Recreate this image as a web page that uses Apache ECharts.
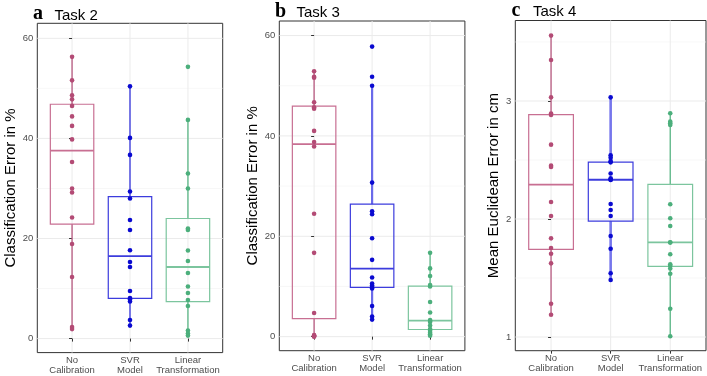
<!DOCTYPE html>
<html><head><meta charset="utf-8">
<script src="https://cdn.jsdelivr.net/npm/echarts@6/dist/echarts.min.js"></script>
<style>html,body{margin:0;padding:0;background:#fff}#c{width:707px;height:376px}</style>
</head><body><div id="c"></div>
<script>
// ---- data ----
const categories = ['No\nCalibration', 'SVR\nModel', 'Linear\nTransformation'];
const categoryPos = [0, 1, 2];

const task2NoCal = [56.3, 51.6, 48.6, 47.8, 46.5, 44.4, 42.5, 39.8, 35.3, 30.0, 29.2, 24.2, 18.9, 12.3, 2.3, 1.9];
const task2SVR   = [50.4, 40.1, 36.7, 29.4, 28.0, 23.7, 21.7, 17.65, 15.3, 14.3, 9.5, 8.1, 7.8, 7.4, 3.7, 2.6];
const task2Lin   = [54.3, 43.7, 33.0, 30.0, 22.0, 21.7, 17.6, 15.5, 13.1, 10.4, 9.1, 7.7, 6.5, 1.6, 1.0, 0.6];

const task3NoCal = [52.9, 51.8, 51.6, 46.7, 45.7, 45.4, 41.0, 38.8, 37.9, 24.5, 16.7, 4.7, 0.3, 0.2, 0.1, 0.0];
const task3SVR   = [57.8, 51.8, 50.0, 30.7, 25.0, 24.4, 19.6, 15.3, 11.8, 10.6, 10.2, 9.9, 9.6, 6.1, 4.0, 3.4];
const task3Lin   = [16.7, 13.6, 12.1, 10.3, 10.0, 6.9, 4.8, 3.3, 3.1, 2.9, 2.2, 1.5, 1.2, 0.8, 0.5, 0.2];

const task4NoCal = [3.554, 3.347, 3.031, 2.893, 2.881, 2.630, 2.452, 2.440, 2.144, 2.025, 1.836, 1.754, 1.706, 1.624, 1.282, 1.189];
const task4SVR   = [3.031, 2.540, 2.520, 2.490, 2.480, 2.385, 2.345, 2.335, 2.330, 2.127, 2.076, 2.025, 1.856, 1.748, 1.540, 1.483];
const task4Lin   = [2.896, 2.825, 2.811, 2.797, 2.125, 2.006, 1.941, 1.803, 1.800, 1.701, 1.616, 1.604, 1.580, 1.536, 1.240, 1.006];

const yTicksPct = [0, 20, 40, 60];
const yMinorPct = [10, 30, 50];
const yTicksCm = [1, 2, 3];
const yMinorCm = [1.5, 2.5, 3.5];

// ---- styles ----
const groupColors = [
  {dot: '#b34b75', box: '#c86f92', whisker: '#b85a80'},
  {dot: '#0a0ad0', box: '#3c3cdd', whisker: '#3434dc'},
  {dot: '#4caf7c', box: '#7cc59e', whisker: '#5ab786'}
];
const SANS = 'Liberation Sans, Arial, Helvetica, sans-serif';
const SERIF = 'Liberation Serif, Times New Roman, serif';

const panels = [
  {grid: {left: 37.3, top: 23.3, width: 185.4, height: 329.4}, y: [-2.8, 63.0], groups: [task2NoCal, task2SVR, task2Lin],
   ticks: yTicksPct, minor: yMinorPct, name: 'Classification Error in %', nameGap: 17,
   letter: 'a', letterPos: [33, 3.5], title: 'Task 2', titlePos: [54.5, 8], svrWhisker: null},
  {grid: {left: 279.3, top: 21, width: 185.6, height: 329.7}, y: [-2.8, 62.9], groups: [task3NoCal, task3SVR, task3Lin],
   ticks: yTicksPct, minor: yMinorPct, name: 'Classification Error in %', nameGap: 16,
   letter: 'b', letterPos: [275, 1.5], title: 'Task 3', titlePos: [296.5, 5.6], svrWhisker: {color: '#6a6aea', width: 2.2}},
  {grid: {left: 515.3, top: 20.5, width: 190.7, height: 330.2}, y: [0.884, 3.682], groups: [task4NoCal, task4SVR, task4Lin],
   ticks: yTicksCm, minor: yMinorCm, name: 'Mean Euclidean Error in cm', nameGap: 14,
   letter: 'c', letterPos: [511.5, 0.5], title: 'Task 4', titlePos: [533, 4.6], svrWhisker: {color: '#7676ec', width: 2.6}}
];

function quantile(s, p) {
  const h = (s.length - 1) * p, lo = Math.floor(h);
  const hiV = s[Math.min(lo + 1, s.length - 1)];
  return s[lo] + (h - lo) * (hiV - s[lo]);
}
function boxStats(arr) {
  const s = [...arr].sort((a, b) => a - b);
  const q1 = quantile(s, 0.25), med = quantile(s, 0.5), q3 = quantile(s, 0.75);
  const iqr = q3 - q1;
  const lo = s.find(v => v >= q1 - 1.5 * iqr);
  const hi = [...s].reverse().find(v => v <= q3 + 1.5 * iqr);
  return [lo, q1, med, q3, hi];
}

const option = {
  animation: false,
  backgroundColor: '#fff',
  title: [], grid: [], xAxis: [], yAxis: [], series: []
};

panels.forEach((p, i) => {
  option.grid.push(Object.assign({show: true, borderColor: '#333', borderWidth: 1, backgroundColor: 'transparent', containLabel: false}, p.grid));
  option.title.push({text: p.letter, left: p.letterPos[0], top: p.letterPos[1], padding: 0,
    textStyle: {fontFamily: SERIF, fontWeight: 'bold', fontSize: 20, color: '#000'}});
  option.title.push({text: p.title, left: p.titlePos[0], top: p.titlePos[1], padding: 0,
    textStyle: {fontFamily: SANS, fontWeight: 'normal', fontSize: 15, color: '#000'}});
  option.xAxis.push({
    type: 'value', gridIndex: i, min: -0.6, max: 2.6,
    axisLine: {show: false}, splitLine: {show: false},
    axisTick: {show: true, customValues: categoryPos, length: 3, lineStyle: {color: '#333'}},
    axisLabel: {customValues: categoryPos, formatter: v => categories[Math.round(v)], fontFamily: SANS,
      fontSize: 9.5, lineHeight: 10.7, color: '#4d4d4d', margin: 2}
  });
  option.yAxis.push({
    type: 'value', gridIndex: i, min: p.y[0], max: p.y[1],
    axisLine: {show: false}, splitLine: {show: false},
    axisTick: {show: true, customValues: p.ticks, length: 3, lineStyle: {color: '#333'}},
    axisLabel: {customValues: p.ticks, fontFamily: SANS, fontSize: 9.5, color: '#4d4d4d', margin: 4},
    name: p.name, nameLocation: 'middle', nameGap: p.nameGap,
    nameTextStyle: {fontFamily: SANS, fontSize: 15, color: '#000'}
  });
  // grid lines
  const gridData = [];
  p.minor.forEach(v => gridData.push([1, v]));
  p.ticks.forEach(v => gridData.push([0, v]));
  categoryPos.forEach(v => gridData.push([2, v]));
  option.series.push({
    type: 'custom', xAxisIndex: i, yAxisIndex: i, z: 0, silent: true,
    data: gridData,
    renderItem: (params, api) => {
      const cs = params.coordSys;
      const kind = api.value(0), v = api.value(1);
      if (kind < 2) {
        const y = api.coord([0, v])[1];
        return {type: 'line', shape: {x1: cs.x, y1: y, x2: cs.x + cs.width, y2: y},
          style: {stroke: kind === 0 ? '#ebebeb' : '#f2f2f2', lineWidth: kind === 0 ? 1 : 0.6}};
      }
      const x = api.coord([v, p.y[0]])[0];
      return {type: 'line', shape: {x1: x, y1: cs.y, x2: x, y2: cs.y + cs.height},
        style: {stroke: '#ebebeb', lineWidth: 1}};
    }
  });
  // boxes
  const boxData = p.groups.map((g, gi) => [categoryPos[gi], ...boxStats(g), gi]);
  option.series.push({
    type: 'custom', xAxisIndex: i, yAxisIndex: i, z: 2, silent: true,
    data: boxData,
    renderItem: (params, api) => {
      const x = api.value(0), gi = api.value(6), c = groupColors[gi];
      let wc = c.whisker, ww = 1.3;
      if (gi === 1 && p.svrWhisker) { wc = p.svrWhisker.color; ww = p.svrWhisker.width; }
      const pLo = api.coord([x, api.value(1)]), pQ1 = api.coord([x, api.value(2)]);
      const pMed = api.coord([x, api.value(3)]), pQ3 = api.coord([x, api.value(4)]);
      const pHi = api.coord([x, api.value(5)]);
      const hw = api.size([0.75, 0])[0] / 2;
      return {type: 'group', children: [
        {type: 'line', shape: {x1: pLo[0], y1: pLo[1], x2: pQ1[0], y2: pQ1[1]}, style: {stroke: wc, lineWidth: ww}},
        {type: 'line', shape: {x1: pQ3[0], y1: pQ3[1], x2: pHi[0], y2: pHi[1]}, style: {stroke: wc, lineWidth: ww}},
        {type: 'rect', shape: {x: pQ3[0] - hw, y: pQ3[1], width: 2 * hw, height: pQ1[1] - pQ3[1]},
          style: {fill: 'none', stroke: c.box, lineWidth: 1.2}},
        {type: 'line', shape: {x1: pMed[0] - hw, y1: pMed[1], x2: pMed[0] + hw, y2: pMed[1]}, style: {stroke: c.box, lineWidth: 1.8}}
      ]};
    }
  });
  // points
  p.groups.forEach((g, gi) => {
    option.series.push({
      type: 'scatter', xAxisIndex: i, yAxisIndex: i, z: 5, silent: true,
      symbol: 'circle', symbolSize: 4.6,
      itemStyle: {color: groupColors[gi].dot, opacity: 1},
      data: g.map(v => [categoryPos[gi], v])
    });
  });
});

const chart = echarts.init(document.getElementById('c'), null, {renderer: 'canvas'});
chart.setOption(option);
</script>
</body></html>
